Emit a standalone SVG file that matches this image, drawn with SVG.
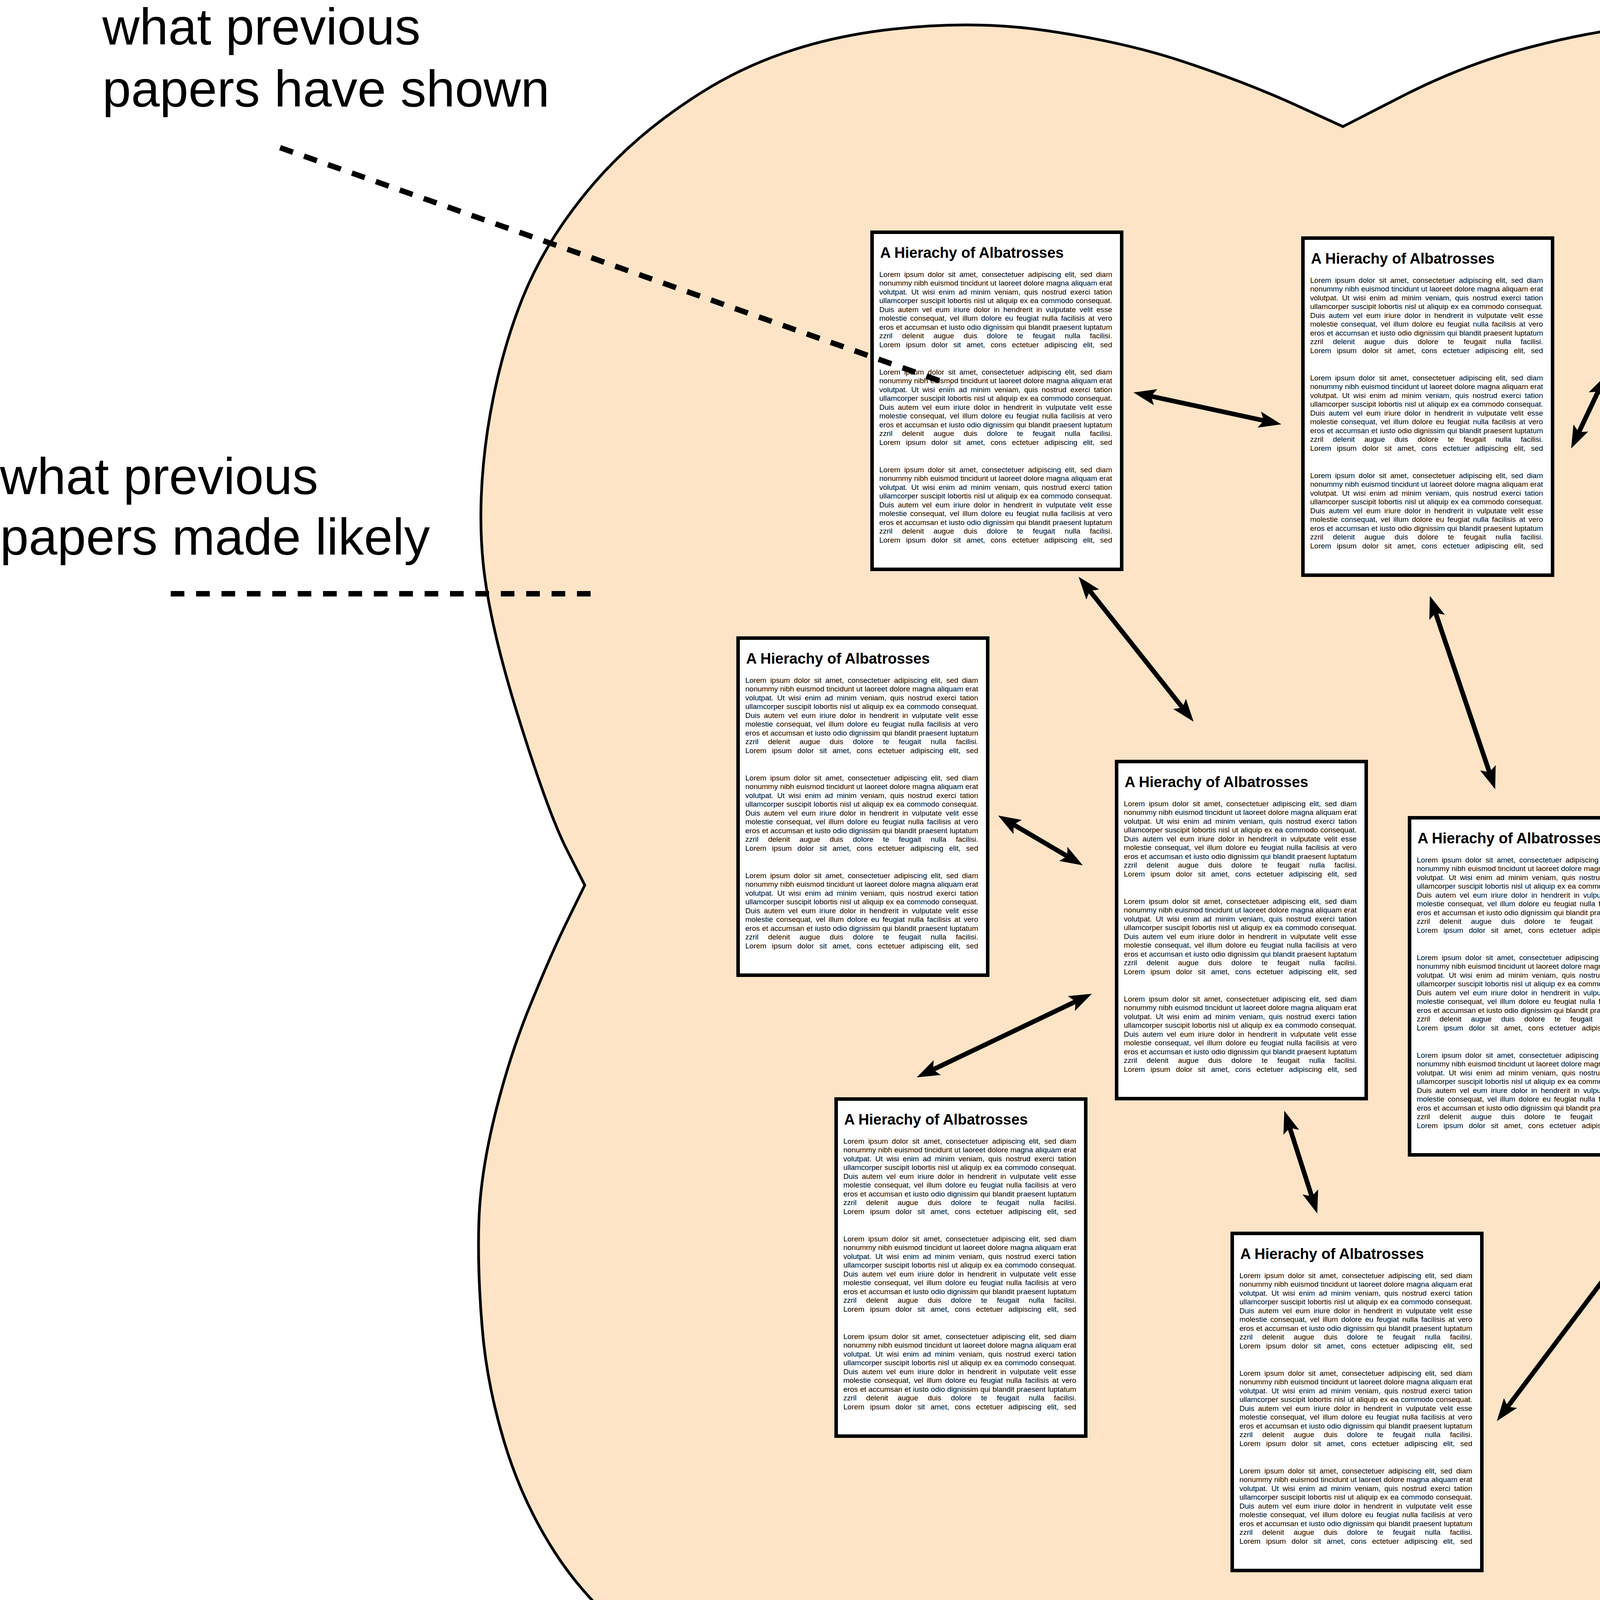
<svg xmlns="http://www.w3.org/2000/svg" xmlns:xlink="http://www.w3.org/1999/xlink" width="6894" height="4485" viewBox="0 0 6894 4485">
<defs>
<style>
.pp{fill:#fff;stroke:#000;stroke-width:9}
.ttl{font-family:"Liberation Sans",Arial,sans-serif;font-weight:bold;font-size:38px;fill:#000}
.bd{font-family:"Liberation Sans",Arial,sans-serif;font-size:19px;fill:#000}
.lbl{font-family:"Liberation Sans",Arial,sans-serif;font-size:132px;fill:#000}
.arr{stroke:#000;stroke-width:12;fill:none;marker-start:url(#ah);marker-end:url(#ah)}
.dash{stroke:#000;stroke-width:14;fill:none;stroke-dasharray:35 30}
</style>
<marker id="ah" viewBox="0 0 58 42" refX="28" refY="21" markerWidth="58" markerHeight="42" markerUnits="userSpaceOnUse" orient="auto-start-reverse">
<path d="M0,0 L58,21 L0,42 L12,21 Z" fill="#000"/>
</marker>
<g id="para" class="bd">
<text x="23" y="118.5" word-spacing="4.5" textLength="596" lengthAdjust="spacing">Lorem ipsum dolor sit amet, consectetuer adipiscing elit, sed diam</text>
<text x="23" y="141" word-spacing="0.3" textLength="596" lengthAdjust="spacing">nonummy nibh euismod tincidunt ut laoreet dolore magna aliquam erat</text>
<text x="23" y="163.5" word-spacing="4.6" textLength="596" lengthAdjust="spacing">volutpat. Ut wisi enim ad minim veniam, quis nostrud exerci tation</text>
<text x="23" y="186" word-spacing="0.9" textLength="596" lengthAdjust="spacing">ullamcorper suscipit lobortis nisl ut aliquip ex ea commodo consequat.</text>
<text x="23" y="208.5" word-spacing="4.2" textLength="596" lengthAdjust="spacing">Duis autem vel eum iriure dolor in hendrerit in vulputate velit esse</text>
<text x="23" y="231" word-spacing="3.1" textLength="596" lengthAdjust="spacing">molestie consequat, vel illum dolore eu feugiat nulla facilisis at vero</text>
<text x="23" y="253.5" word-spacing="0.5" textLength="596" lengthAdjust="spacing">eros et accumsan et iusto odio dignissim qui blandit praesent luptatum</text>
<text x="23" y="276" word-spacing="19.2" textLength="596" lengthAdjust="spacing">zzril delenit augue duis dolore te feugait nulla facilisi.</text>
<text x="23" y="298.5" word-spacing="9.1" textLength="596" lengthAdjust="spacing">Lorem ipsum dolor sit amet, cons ectetuer adipiscing elit, sed</text>
</g>
<g id="body">
<use xlink:href="#para" href="#para"/>
<use xlink:href="#para" href="#para" y="250"/>
<use xlink:href="#para" href="#para" y="500"/>
</g>
</defs>

<g id="blob">
<path d="M 3438 324 L 3598 242 Q 3759 161 3920 120 Q 4080 78 4241 62 Q 4402 46 4616 76 Q 4831 107 4984 184 Q 5137 260 5290 436 Q 5443 612 5520 765 Q 5596 918 5626 1110 Q 5657 1301 5643 1432 Q 5629 1562 5605 1672 Q 5581 1781 5548 1876 Q 5514 1972 5483 2044 Q 5452 2115 5416 2190 L 5380 2264 L 5466 2461 Q 5552 2658 5586 2776 Q 5619 2894 5635 3066 Q 5651 3237 5643 3348 Q 5635 3460 5590 3618 Q 5544 3775 5514 3842 Q 5483 3908 5392 4024 Q 5300 4141 5210 4214 Q 5120 4288 5002 4350 Q 4884 4411 4654 4444 Q 4424 4478 4267 4468 Q 4110 4458 3961 4404 Q 3812 4350 3624 4278 L 3437 4205 L 3318 4265 Q 3200 4325 3050 4375 Q 2900 4425 2677 4448 Q 2454 4470 2262 4448 Q 2071 4427 1918 4366 Q 1765 4304 1635 4204 Q 1505 4105 1421 3975 Q 1337 3845 1291 3692 Q 1245 3539 1234 3394 Q 1222 3248 1226 3126 Q 1230 3003 1268 2850 Q 1306 2697 1360 2567 Q 1413 2437 1455 2352 L 1497 2266 L 1451 2175 Q 1405 2085 1329 1842 Q 1253 1600 1237 1443 Q 1221 1286 1248 1102 Q 1276 918 1337 765 Q 1398 612 1519 471 Q 1640 330 1820 222 Q 2000 115 2235 81 Q 2470 48 2676 78 Q 2883 108 3036 160 Q 3189 211 3313 267 L 3438 324 Z" fill="#FDE4C7" stroke="#000" stroke-width="7" stroke-linejoin="miter"/>
</g>

<g id="connectors">
<line class="arr" x1="2931" y1="1011" x2="3251" y2="1080"/>
<line class="arr" x1="4035" y1="1121" x2="4098" y2="988"/>
<line class="arr" x1="2780" y1="1500" x2="3037" y2="1824"/>
<line class="arr" x1="3670" y1="1554" x2="3818" y2="1992"/>
<line class="arr" x1="4556" y1="1422" x2="4603" y2="1573"/>
<line class="arr" x1="2581" y1="2103" x2="2746" y2="2200"/>
<line class="arr" x1="2768" y1="2557" x2="2374" y2="2745"/>
<line class="arr" x1="3297" y1="2872" x2="3363" y2="3078"/>
<line class="arr" x1="3850" y1="3614" x2="4682" y2="2510"/>
</g>

<g id="paper1" transform="translate(2228,590)"><rect class="pp" x="4.5" y="4.5" width="639" height="863"/><text class="ttl" x="25" y="70">A Hierachy of Albatrosses</text><use xlink:href="#body" href="#body"/></g>
<g id="paper2" transform="translate(3331,605)"><rect class="pp" x="4.5" y="4.5" width="639" height="863"/><text class="ttl" x="25" y="70">A Hierachy of Albatrosses</text><use xlink:href="#body" href="#body"/></g>
<g id="paper3" transform="translate(4159,500)"><rect class="pp" x="4.5" y="4.5" width="639" height="863"/><text class="ttl" x="25" y="70">A Hierachy of Albatrosses</text><use xlink:href="#body" href="#body"/></g>
<g id="paper4" transform="translate(1885,1629)"><rect class="pp" x="4.5" y="4.5" width="639" height="863"/><text class="ttl" x="25" y="70">A Hierachy of Albatrosses</text><use xlink:href="#body" href="#body"/></g>
<g id="paper5" transform="translate(2854,1945)"><rect class="pp" x="4.5" y="4.5" width="639" height="863"/><text class="ttl" x="25" y="70">A Hierachy of Albatrosses</text><use xlink:href="#body" href="#body"/></g>
<g id="paper6" transform="translate(3604,2089)"><rect class="pp" x="4.5" y="4.5" width="639" height="863"/><text class="ttl" x="25" y="70">A Hierachy of Albatrosses</text><use xlink:href="#body" href="#body"/></g>
<g id="paper7" transform="translate(4344,1600)"><rect class="pp" x="4.5" y="4.5" width="639" height="863"/><text class="ttl" x="25" y="70">A Hierachy of Albatrosses</text><use xlink:href="#body" href="#body"/></g>
<g id="paper9" transform="translate(2136,2809)"><rect class="pp" x="4.5" y="4.5" width="639" height="863"/><text class="ttl" x="25" y="70">A Hierachy of Albatrosses</text><use xlink:href="#body" href="#body"/></g>
<g id="paper10" transform="translate(3150,3153)"><rect class="pp" x="4.5" y="4.5" width="639" height="863"/><text class="ttl" x="25" y="70">A Hierachy of Albatrosses</text><use xlink:href="#body" href="#body"/></g>

<g id="new-paper-region">
<rect x="4546.5" y="2104.5" width="1006" height="1259" rx="195" ry="195" fill="#6CC6EE" fill-opacity="0.44" stroke="#000" stroke-width="9"/>
</g>

<g id="paper8" transform="translate(4727,2299)"><rect class="pp" x="4.5" y="4.5" width="639" height="863"/><text class="ttl" x="25" y="70">A Hierachy of Albatrosses</text><use xlink:href="#body" href="#body"/></g>

<g id="leaders">
<line class="dash" x1="717" y1="378" x2="2434" y2="985"/>
<line class="dash" x1="437" y1="1520" x2="1515" y2="1520"/>
<line class="dash" x1="6262" y1="1834" x2="5490" y2="2291"/>
<line class="dash" x1="5300" y1="2640" x2="6149" y2="2942"/>
<line class="dash" x1="5349" y1="3270" x2="5917" y2="3882"/>
</g>

<g id="label-prev-shown"><text class="lbl"><tspan x="262" y="114">what previous</tspan><tspan x="262" y="273">papers have shown</tspan></text></g>
<g id="label-prev-likely"><text class="lbl"><tspan x="0" y="1265">what previous</tspan><tspan x="0" y="1420">papers made likely</tspan></text></g>
<g id="label-delta"><text class="lbl" x="6003" y="1764">the delta</text></g>
<g id="label-new-shown"><text class="lbl"><tspan x="5877" y="3143">what the new</tspan><tspan x="5877" y="3301">paper has shown</tspan></text></g>
<g id="label-new-likely"><text class="lbl"><tspan x="5657" y="4040">what the new paper</tspan><tspan x="5657" y="4199">has made likely</tspan></text></g>
</svg>
